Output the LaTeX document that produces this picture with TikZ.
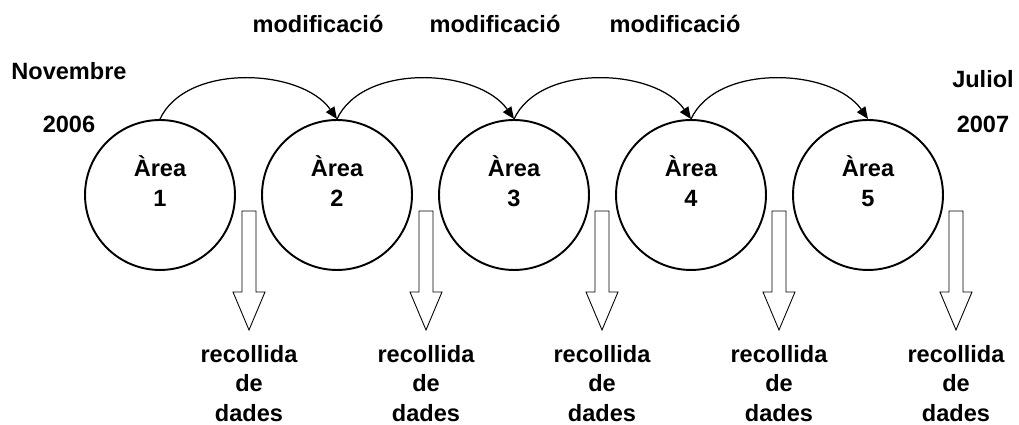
\documentclass[tikz,border=0pt]{standalone}
\usepackage{fontspec}
\setmainfont{Liberation Sans}
\usepackage{tikz}
\usetikzlibrary{
    positioning,
    arrows.meta
}

\tikzset{
    txt/.style={font=\fontsize{13.4}{16.8}\selectfont\bfseries, inner sep=0pt, align=center},
    area/.style={circle, draw, line width=1.1pt, minimum size=3cm, inner sep=0pt},
    modarrow/.style={-{Triangle[length=0.24cm,width=0.2cm]}, line width=0.7pt},
    blockarrow/.style={draw, line width=0.5pt, fill=white}
}

\begin{document}
\begin{tikzpicture}[x=0.02cm, y=0.02cm]
            \useasboundingbox (0,0) rectangle (1019,425);

            % cercles de les arees
            \foreach \n/\x in {1/160,2/337,3/514,4/691,5/868} {
                \node[area] (a\n) at (\x,230) {};
                \node[txt] (t\n) at ([yshift=0.28cm]a\n.center) {Àrea\\\n};
            }

            % fletxes de modificacio entre arees
            \foreach \n [count=\m from 2] in {1,...,4} {
                \draw[modarrow] (a\n.north) to[out=65, in=125, looseness=0.9] (a\m.north);
            }
            \node[txt, anchor=base] (m1) at (318,392) {modificació};
            \node[txt, anchor=base] (m2) at (495,392) {modificació};
            \node[txt, anchor=base] (m3) at (675,392) {modificació};

            % dates d'inici i final
            \node[txt, anchor=base] (ini) at (69,345) {Novembre};
            \node[txt, anchor=base] (iniany) at (69,292) {2006};
            \node[txt, anchor=base] (fi) at (983,337) {Juliol};
            \node[txt, anchor=base] (fiany) at (983,292) {2007};

            % recollida de dades
            \foreach \n/\x in {1/249,2/426,3/602,4/779,5/956} {
                \coordinate (f\n) at (\x,214);
                \draw[blockarrow] (f\n) ++(-7,0) -- ++(14,0) -- ++(0,-81) -- ++(9,0)
                    -- ++(-16,-38) -- ++(-16,38) -- ++(9,0) -- cycle;
                \node[txt] (r\n) at (\x,41.5) {recollida\\de\\dades};
            }
        \end{tikzpicture}
\end{document}
